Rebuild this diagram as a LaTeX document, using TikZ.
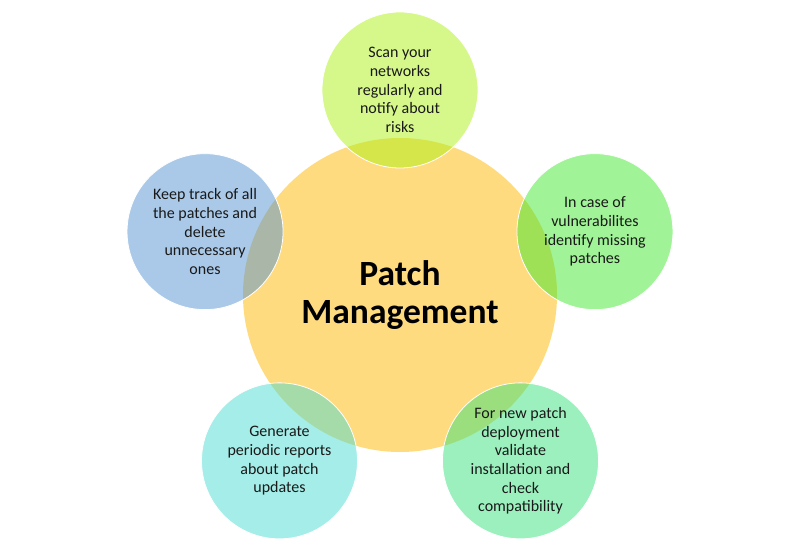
\documentclass[tikz,border=0pt]{standalone}
\usepackage{fontspec}
\setmainfont{Carlito}
\usetikzlibrary{positioning}
\definecolor{hubyellow}{RGB}{255,219,128}
\definecolor{limegreen}{RGB}{173,241,21}
\definecolor{leafgreen}{RGB}{65,231,45}
\definecolor{mintgreen}{RGB}{55,225,125}
\definecolor{aqua}{RGB}{75,219,209}
\definecolor{skyblue}{RGB}{85,147,209}
\definecolor{textgray}{RGB}{25,25,25}

\begin{document}
\begin{tikzpicture}[
    x=1pt, y=1pt,
    % styles
    hub/.style={
        circle, fill=hubyellow, minimum size=314pt, inner sep=0pt, align=center,
        text=black, font=\fontsize{35.5}{38.5}\selectfont\bfseries
    },
    task/.style={
        circle, draw=white, line width=0.8pt, fill opacity=0.5, text opacity=1,
        minimum size=156pt, inner sep=0pt, align=center, text=textgray,
        font=\fontsize{16}{18.7}\selectfont
    }
]
    \useasboundingbox (-400,-254) rectangle (400,295);

    % --- CENTRE ---
    \node[hub] (patch) at (0,0) {Patch\\Management};

    % --- TASKS (around the centre) ---
    \node[task, fill=limegreen] (scan) at (90:205) {Scan your\\networks\\regularly and\\notify about\\risks};
    \node[task, fill=leafgreen] (identify) at (18:205) {In case of\\vulnerabilites\\identify missing\\patches};
    \node[task, fill=mintgreen] (validate) at (-54:205) {For new patch\\deployment\\validate\\installation and\\check\\compatibility};
    \node[task, fill=aqua] (report) at (-126:205) {Generate\\periodic reports\\about patch\\updates};
    \node[task, fill=skyblue] (track) at (162:205) {Keep track of all\\the patches and\\delete\\unnecessary\\ones};

\end{tikzpicture}
\end{document}
